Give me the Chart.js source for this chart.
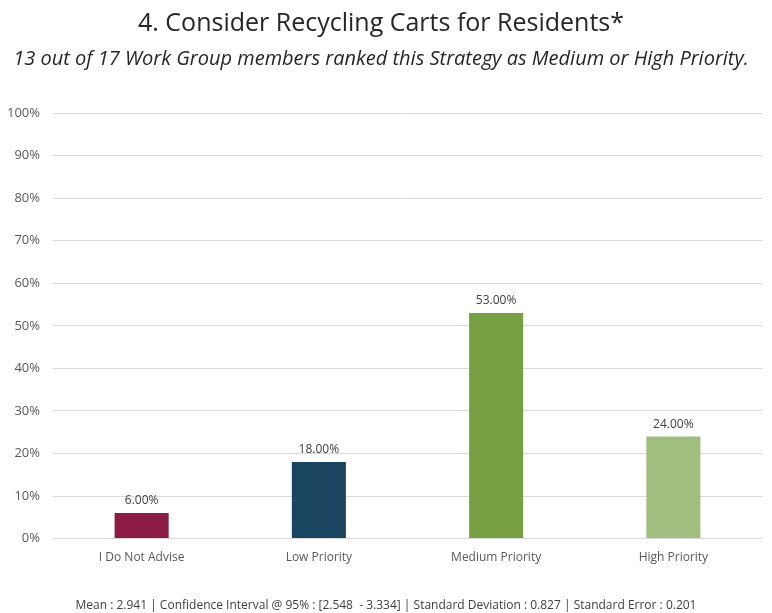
<!DOCTYPE html>
<html>
<head>
<meta charset="utf-8">
<script src="https://cdn.jsdelivr.net/npm/chart.js@4/dist/chart.umd.min.js"></script>
<style>
  body { margin: 0; background: #fff; }
  #wrap { position: relative; width: 772px; height: 613px; }
  #footer {
    position: absolute; left: 0; width: 772px; top: 596px; text-align: center;
    font-family: 'Open Sans', sans-serif; font-size: 12px; color: #404040;
  }
</style>
</head>
<body>
<div id="wrap">
  <canvas id="chart" width="772" height="613"></canvas>
  <div id="footer">Mean : 2.941 | Confidence Interval @ 95% : [2.548 &nbsp;- 3.334] | Standard Deviation : 0.827 | Standard Error : 0.201</div>
</div>
<script>
const categories = ['I Do Not Advise', 'Low Priority', 'Medium Priority', 'High Priority'];
const percentages = [6, 18, 53, 24];
const barColors = ['#8C1B46', '#1B4460', '#77A043', '#A0BE7E'];
const yTicks = [0, 10, 20, 30, 40, 50, 60, 70, 80, 90, 100];

const ctx = document.getElementById('chart').getContext('2d');

// draws the value above each bar
const valueLabels = {
    id: 'valueLabels',
    afterDatasetsDraw(chart) {
        const c = chart.ctx;
        const meta = chart.getDatasetMeta(0);
        c.save();
        c.font = '12px "Open Sans", sans-serif';
        c.fillStyle = '#404040';
        c.textAlign = 'center';
        c.textBaseline = 'bottom';
        meta.data.forEach((bar, i) => {
            c.fillText(percentages[i].toFixed(2) + '%', bar.x, bar.y - 6);
        });
        c.restore();
    }
};

new Chart(ctx, {
    type: 'bar',
    data: {
        labels: categories,
        datasets: [{
            data: percentages,
            backgroundColor: barColors,
            barPercentage: 0.61,
            categoryPercentage: 0.5
        }]
    },
    options: {
        responsive: false,
        animation: false,
        layout: { padding: { top: 2, left: 0, right: 10, bottom: 36 } },
        plugins: {
            legend: { display: false },
            tooltip: { enabled: false },
            title: {
                display: true,
                text: '4. Consider Recycling Carts for Residents*',
                color: '#262626',
                font: { family: 'Open Sans', size: 25, weight: 'normal' },
                padding: { top: 7, bottom: 8 }
            },
            subtitle: {
                display: true,
                text: '13 out of 17 Work Group members ranked this Strategy as Medium or High Priority.',
                color: '#262626',
                font: { family: 'Open Sans', size: 20, style: 'italic' },
                padding: { top: 0, bottom: 42 }
            }
        },
        scales: {
            x: {
                grid: { display: false, drawTicks: false },
                border: { display: false },
                ticks: { color: '#595959', font: { family: 'Open Sans', size: 12 }, padding: 12 }
            },
            y: {
                min: 0,
                max: 100,
                afterBuildTicks(axis) { axis.ticks = yTicks.map(v => ({ value: v })); },
                afterFit(axis) { axis.width = 53; },
                grid: { color: '#d9d9d9', drawTicks: false },
                border: { display: false },
                ticks: {
                    color: '#595959',
                    font: { family: 'Open Sans', size: 13 },
                    padding: 13,
                    callback: v => v + '%'
                }
            }
        }
    },
    plugins: [valueLabels]
});
</script>
</body>
</html>
